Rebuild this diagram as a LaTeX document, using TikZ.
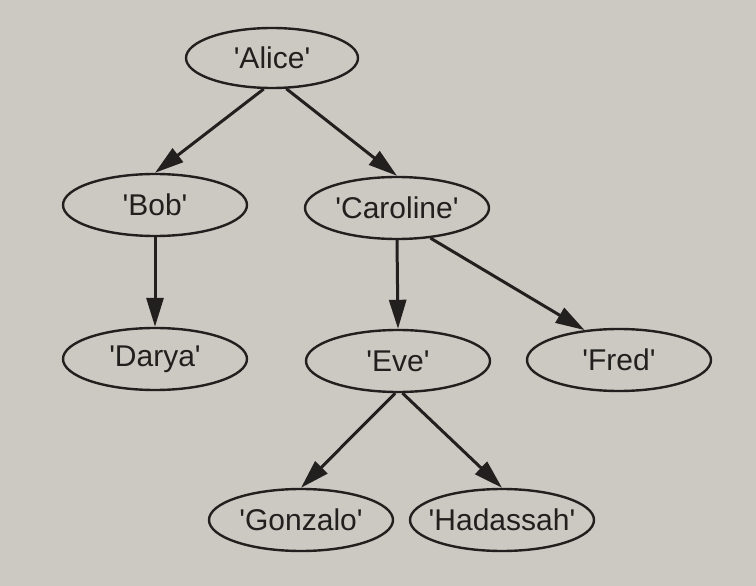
\documentclass[tikz,border=0pt]{standalone}
\usepackage{fontspec}
\setmainfont{Liberation Sans}
\usetikzlibrary{arrows.meta,shapes.geometric}
\definecolor{paper}{RGB}{204,201,195}
\definecolor{ink}{RGB}{34,32,30}
\newcommand{\sq}{\textquotesingle}
\begin{document}
\begin{tikzpicture}[x=1pt,y=-1pt,
  treenode/.style={draw=ink, line width=2.4pt, ellipse, minimum width=184pt,
    minimum height=62pt, inner sep=0pt, text=ink,
    font=\fontsize{30}{30}\selectfont},
  treeedge/.style={draw=ink, line width=3pt, -{Triangle[length=29pt,width=17pt]}}]
\fill[paper] (0,0) rectangle (756,586);
\useasboundingbox (0,0) rectangle (756,586);

\node[treenode, minimum width=172pt, minimum height=60pt] (alice) at (272,58) {\sq Alice\sq};
\node[treenode] (bob) at (155,205) {\sq Bob\sq};
\node[treenode] (caroline) at (397,208) {\sq Caroline\sq};
\node[treenode] (darya) at (155,359) {\sq Darya\sq};
\node[treenode] (eve) at (398,361) {\sq Eve\sq};
\node[treenode] (fred) at (619,360) {\sq Fred\sq};
\node[treenode] (gonzalo) at (301,520) {\sq Gonzalo\sq};
\node[treenode, inner xsep=-10pt] (hadassah) at (502,520) {\sq Hadassah\sq};

\draw[treeedge] (alice.-105) -- (bob.north);
\draw[treeedge] (alice.-65) -- (caroline.north);
\draw[treeedge] (bob.south) -- (darya.north);
\draw[treeedge] (caroline.south) -- (eve.north);
\draw[treeedge] (caroline.-42) -- (fred.139);
\draw[treeedge] (eve.-95) -- (gonzalo.north);
\draw[treeedge] (eve.-82) -- (hadassah.north);
\end{tikzpicture}
\end{document}
